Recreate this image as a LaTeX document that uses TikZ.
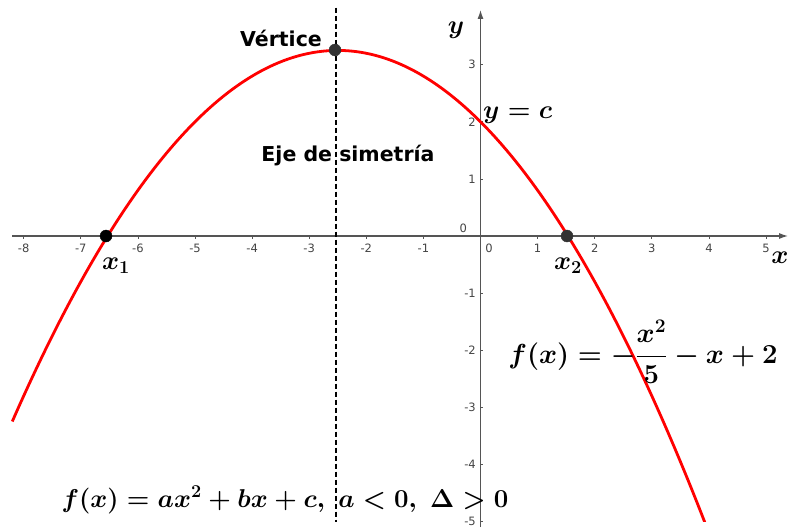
\RequirePackage{fix-cm}
\documentclass[tikz,border=0pt]{standalone}
\usepackage{amsmath}
\usepackage{fontspec}
\newfontfamily\lblfont{DejaVu Sans}
\usetikzlibrary{arrows.meta}
\definecolor{axisgray}{HTML}{555555}
\definecolor{ticklbl}{HTML}{444444}
\definecolor{ptgray}{HTML}{333333}
\tikzset{
  axisline/.style={draw=axisgray, line width=1.1pt},
  tickline/.style={draw=axisgray, line width=0.8pt},
  ticklabel/.style={text=ticklbl, font=\lblfont\fontsize{11.5}{12}\selectfont, inner sep=0pt},
  curve/.style={draw=red, line width=2.8pt},
  symaxis/.style={draw=black, line width=1.4pt, dash pattern=on 5pt off 3pt},
  bigword/.style={font=\lblfont\bfseries\fontsize{20.5}{24}\selectfont, inner sep=0pt},
  mathlbl/.style={font=\fontsize{26}{30}\selectfont\boldmath, inner sep=0pt},
  mathfx/.style={font=\fontsize{27.5}{32}\selectfont\boldmath, inner sep=0pt},
  mathgen/.style={font=\fontsize{25.8}{30}\selectfont\boldmath, inner sep=0pt},
  ptblack/.style={fill=black, draw=black, circle, inner sep=0pt, minimum size=12pt},
  ptdark/.style={fill=ptgray, draw=ptgray, circle, inner sep=0pt, minimum size=12pt},
}
\begin{document}
\begin{tikzpicture}[x=1pt,y=-1pt]
\useasboundingbox (0,0) rectangle (794,527);
% axes
\coordinate (xl) at (12,236);
\coordinate (xr) at (788,236);
\coordinate (yb) at (480.5,527);
\coordinate (yt) at (480.5,10);
\draw[axisline, -{Latex[length=9pt,width=6pt]}] (xl) -- (xr);
\draw[axisline, -{Latex[length=9pt,width=6pt]}] (yb) -- (yt);
\begin{scope}[shift={(480.5,236)}, x=57.1pt, y=57.1pt]
  % x ticks
  \foreach \i in {-8,...,-1,1,2,3,4,5} {
    \draw[tickline] (\i,0) -- (\i,-0.05);
    \node[ticklabel] at (\i,-0.22) {\i};
  }
  \node[ticklabel] at (0.15,-0.22) {0};
  \node[ticklabel] at (-0.3,0.13) {0};
  % y ticks
  \foreach \j in {-5,...,-1,1,2,3} {
    \draw[tickline] (0,\j) -- (0.05,\j);
    \node[ticklabel, anchor=east] at (-0.08,\j) {\j};
  }
  % symmetry axis
  \coordinate (st) at (-2.53,4.0);
  \coordinate (sb) at (-2.53,-5.0);
  \draw[symaxis] (st) -- (sb);
  % curve
  \clip (-8.5,4.2) rectangle (6,-5.0);
  \draw[curve, domain=-8.2:4.05, samples=120, smooth] plot (\x, {-\x*\x/5 - \x + 2});
\end{scope}
% points
\node[ptblack] (x1) at (106,236) {};
\node[ptdark] (x2) at (567,236) {};
\node[ptdark] (v) at (335,50) {};
% labels
\node[bigword, anchor=east] (vt) at (322,38) {Vértice};
\node[bigword] (eje) at (348,156) {Eje de simetría};
\node[mathlbl] (ylab) at (456,30) {$y$};
\node[mathlbl] (xlab) at (780,258) {$x$};
\node[mathlbl, anchor=west] (yc) at (483,115) {$y=c$};
\node[mathlbl] (x1l) at (116,266) {$x_1$};
\node[mathlbl] (x2l) at (568,266) {$x_2$};
\node[mathfx] (fx) at (643,352) {$f(x)=-\dfrac{x^2}{5}-x+2$};
\node[mathgen] (gen) at (285,500) {$f(x)=ax^2+bx+c,\;a<0,\;\Delta>0$};
\end{tikzpicture}
\end{document}
